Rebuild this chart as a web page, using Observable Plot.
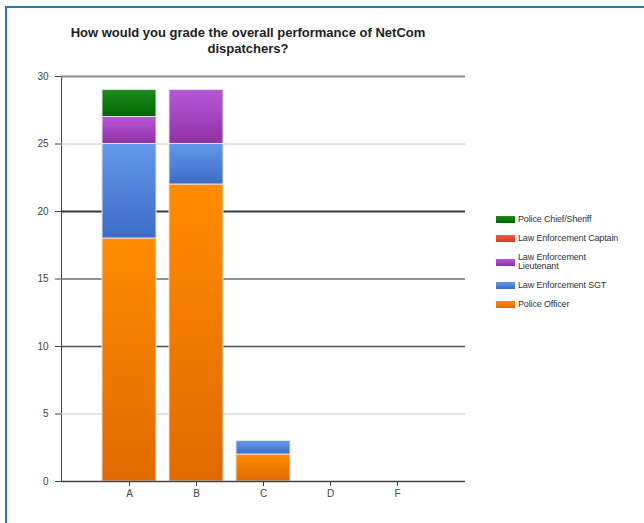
<!DOCTYPE html>
<html>
<head>
<meta charset="utf-8">
<script src="https://cdn.jsdelivr.net/npm/d3@7"></script>
<script src="https://cdn.jsdelivr.net/npm/@observablehq/plot@0.6"></script>
<style>
  html, body { margin: 0; padding: 0; background: #fff; }
  body { width: 644px; height: 523px; position: relative; overflow: hidden; font-family: "Liberation Sans", Arial, sans-serif; }
  #frame { position: absolute; left: 5px; top: 6px; width: 700px; height: 600px;
           border-left: 2px solid #2b7ab4; border-top: 2px solid #2b7ab4; }
  #chart { position: absolute; left: 0; top: 0; }
  #title { position: absolute; left: 0; top: 25px; width: 496px; text-align: center;
           font-weight: bold; font-size: 13px; line-height: 16px; color: #222; }
  #legend { position: absolute; left: 496px; top: 215px; display: flex; flex-direction: column; gap: 10px;
            font-size: 9px; line-height: 9px; color: #333; letter-spacing: -0.15px; }
  .item { display: flex; align-items: center; }
  .sw { width: 19px; height: 7px; margin-right: 3px; flex: none; }
</style>
</head>
<body>
<div id="frame"></div>
<div id="chart"></div>
<div id="title">How would you grade the overall performance of NetCom<br>dispatchers?</div>
<div id="legend"></div>
<script>
// Grades on the x axis
const grades = ["A", "B", "C", "D", "F"];
// Respondent roles, bottom of the stack first
const roles = ["Police Officer", "Law Enforcement SGT", "Law Enforcement Lieutenant", "Law Enforcement Captain", "Police Chief/Sheriff"];
// Counts per grade for each role
const policeOfficer = [18, 22, 2, 0, 0];
const lawEnforcementSGT = [7, 3, 1, 0, 0];
const lawEnforcementLieutenant = [2, 4, 0, 0, 0];
const lawEnforcementCaptain = [0, 0, 0, 0, 0];
const policeChiefSheriff = [2, 0, 0, 0, 0];
// Y axis tick values
const yTicks = [0, 5, 10, 15, 20, 25, 30];

const seriesValues = [policeOfficer, lawEnforcementSGT, lawEnforcementLieutenant, lawEnforcementCaptain, policeChiefSheriff];
const rows = [];
roles.forEach((role, r) => grades.forEach((g, i) => {
  if (seriesValues[r][i] > 0) rows.push({grade: g, role, count: seriesValues[r][i]});
}));

// vertical gradient per role: [top, bottom]
const shades = {
  "Police Officer": ["#ff8c00", "#e06a00"],
  "Law Enforcement SGT": ["#6299ea", "#3d6cc6"],
  "Law Enforcement Lieutenant": ["#b857d6", "#9031a8"],
  "Law Enforcement Captain": ["#f2594b", "#d73a2b"],
  "Police Chief/Sheriff": ["#1e8c1e", "#006600"]
};
const gradId = (role) => "g" + roles.indexOf(role);

// grid line strokes by value
const gridStyle = {
  30: ["#8c8c8c", 2], 25: ["#c4c4c4", 1], 20: ["#3a3a3a", 2],
  15: ["#6e6e6e", 1.5], 10: ["#4e4e4e", 1.5], 5: ["#c8c8c8", 1], 0: ["#fff", 0]
};

const chart = Plot.plot({
  width: 644,
  height: 523,
  marginLeft: 61,
  marginRight: 179,
  marginTop: 76,
  marginBottom: 42,
  style: {fontFamily: "Liberation Sans, Arial, sans-serif", fontSize: "10px", color: "#444", background: "transparent"},
  x: {type: "band", domain: grades, paddingInner: 0.2, paddingOuter: 0.6, label: null, tickSize: 5, tickPadding: 3},
  y: {domain: [0, 30], ticks: yTicks, label: null, tickSize: 6, tickPadding: 7, line: true},
  color: {domain: roles, range: roles.map(r => `url(#${gradId(r)})`)},
  marks: [
    Plot.ruleY(yTicks.filter(v => v > 0), {
      y: d => d,
      stroke: d => gridStyle[d][0],
      strokeWidth: d => gridStyle[d][1]
    }),
    Plot.barY(rows, {
      x: "grade", y: "count", fill: "role", order: roles,
      stroke: "#e2e2e2", strokeWidth: 1
    }),
    Plot.ruleY([0], {stroke: "#444", strokeWidth: 1.5})
  ]
});

// gradient definitions used by the bar fills
const defs = d3.select(chart).insert("defs", ":first-child");
roles.forEach(r => {
  const lg = defs.append("linearGradient").attr("id", gradId(r))
    .attr("x1", 0).attr("y1", 0).attr("x2", 0).attr("y2", 1);
  lg.append("stop").attr("offset", "0%").attr("stop-color", shades[r][0]);
  lg.append("stop").attr("offset", "100%").attr("stop-color", shades[r][1]);
});
document.getElementById("chart").appendChild(chart);

// legend, top of the stack first
const legend = document.getElementById("legend");
const labels = {"Law Enforcement Lieutenant": "Law Enforcement<br>Lieutenant"};
roles.slice().reverse().forEach(r => {
  const item = document.createElement("div");
  item.className = "item";
  item.innerHTML = `<span class="sw" style="background:linear-gradient(${shades[r][0]},${shades[r][1]})"></span><span>${labels[r] || r}</span>`;
  legend.appendChild(item);
});
</script>
</body>
</html>
